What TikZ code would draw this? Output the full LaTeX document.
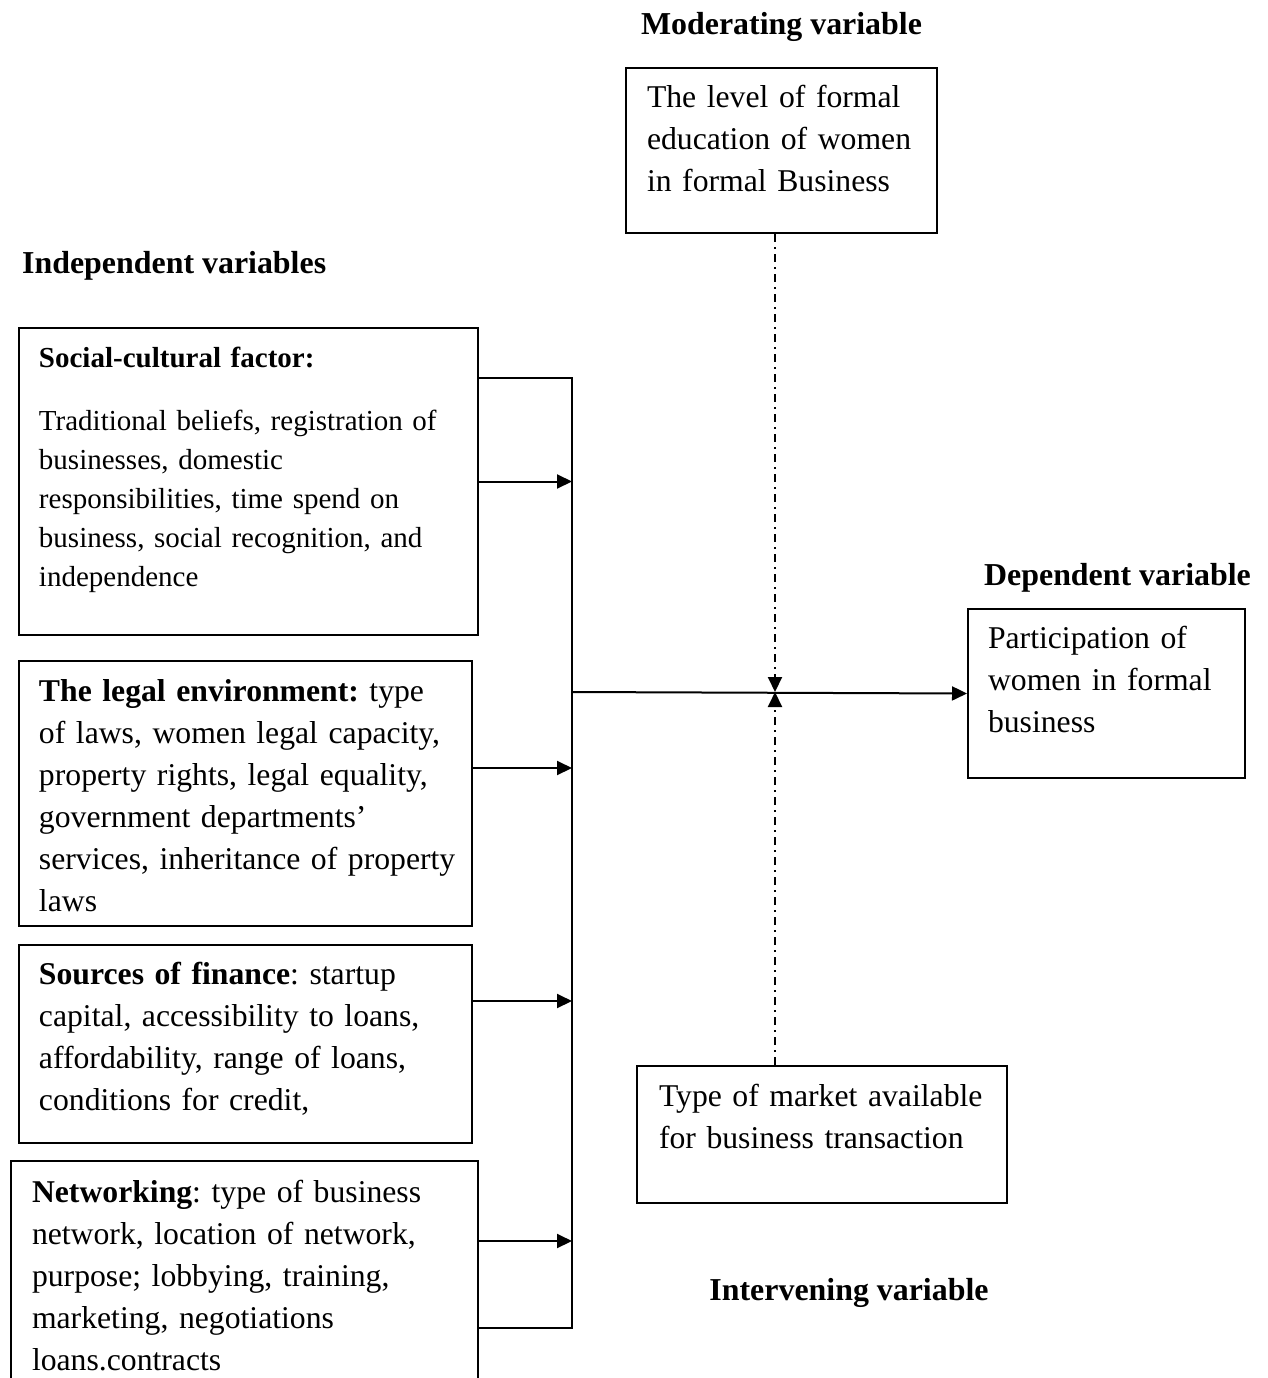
\documentclass[tikz,border=0pt]{standalone}
\usepackage{fontspec}
\setmainfont{Liberation Serif}
\usetikzlibrary{arrows.meta, positioning}
\newcommand{\bodyfont}{\fontsize{31.7}{42}\selectfont}
\newcommand{\smallbody}{\fontsize{29}{39}\selectfont}
\frenchspacing

\begin{document}
\begin{tikzpicture}[x=1pt, y=-1pt,
    varbox/.style={draw, line width=2pt, inner sep=0pt, anchor=north west,
                   align=left, font=\bodyfont,
                   execute at begin node={\leftskip=#1}},
    varbox/.default=20pt,
    heading/.style={inner sep=0pt, font=\fontsize{31.9}{40}\selectfont\bfseries},
    feed/.style={-{Triangle[length=15pt, width=14pt]}, line width=2pt},
    bus/.style={line width=2pt},
    moderate/.style={-{Triangle[length=15pt, width=14pt]}, line width=2pt,
                     dash pattern=on 8pt off 5pt on 2pt off 5pt}
]
    \useasboundingbox (0,0) rectangle (1268,1378);

    % boxes
    \node[varbox=21pt, text width=311pt, text height=39.5pt, text depth=125.5pt] (moder) at (625,67)
        {The level of formal\\education of women\\in formal Business};
    \node[varbox, text width=459pt, text height=39pt, text depth=268pt, font=\smallbody] (social) at (18,327)
        {\textbf{Social-cultural factor:}\\[24pt]Traditional beliefs, registration of\\businesses, domestic\\responsibilities, time spend on\\business, social recognition, and\\independence};
    \node[varbox, text width=453pt, text height=40pt, text depth=225pt] (legal) at (18,660)
        {\textbf{The legal environment:} type\\of laws, women legal capacity,\\property rights, legal equality,\\government departments'\\services, inheritance of property\\laws};
    \node[varbox, text width=453pt, text height=39.5pt, text depth=158.5pt] (finance) at (18,944)
        {\textbf{Sources of finance}: startup\\capital, accessibility to loans,\\affordability, range of loans,\\conditions for credit,};
    \node[varbox=21pt, text width=467pt, text height=41pt, text depth=240pt] (network) at (10,1160)
        {\textbf{Networking}: type of business\\network, location of network,\\purpose; lobbying, training,\\marketing, negotiations\\loans.contracts};
    \node[varbox, text width=277pt, text height=39pt, text depth=130pt] (depvar) at (967,608)
        {Participation of\\women in formal\\business};
    \node[varbox=22pt, text width=370pt, text height=40.5pt, text depth=96.5pt] (interv) at (636,1065)
        {Type of market available\\for business transaction};

    % headings
    \node[heading, above=25pt of moder] (modlbl) {Moderating variable};
    \node[heading, anchor=base west] (indlbl) at (22,273) {Independent variables};
    \node[heading, above=16pt of depvar, xshift=11pt] (deplbl) {Dependent variable};
    \node[heading, below=74pt of interv, xshift=27pt] (intlbl) {Intervening variable};

    % connectors
    \coordinate (bustop) at (572,378);
    \coordinate (busbot) at (572,1328);
    \coordinate (hub) at (572,692);
    \coordinate (cross) at (775,692);

    \draw[bus] (social.east |- bustop) -- (bustop) -- (busbot) -- (network.east |- busbot);
    \draw[feed] (social.east) -- (social.east -| bustop);
    \draw[feed] (legal.east |- 0,768) -- (bustop |- 0,768);
    \draw[feed] (finance.east |- 0,1001) -- (bustop |- 0,1001);
    \draw[feed] (network.east |- 0,1241) -- (bustop |- 0,1241);
    \draw[feed] (hub) -- (depvar.west);
    \draw[moderate] (moder.south -| cross) -- (cross);
    \draw[moderate] (interv.north -| cross) -- (cross);
\end{tikzpicture}
\end{document}
